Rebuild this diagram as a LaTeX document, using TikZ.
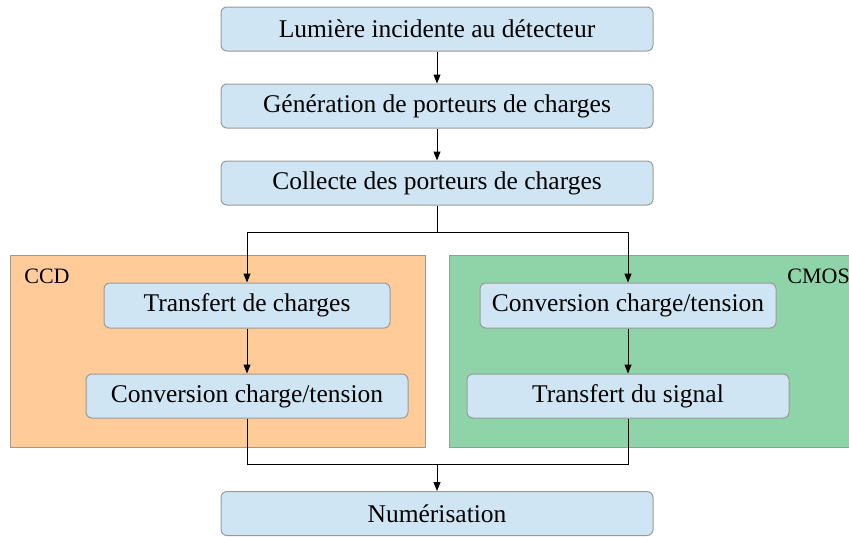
\documentclass[tikz,border=0pt]{standalone}
\usepackage{fontspec}
\setmainfont{Liberation Serif}
\usetikzlibrary{arrows.meta}

\definecolor{bleuetape}{HTML}{D0E5F3}
\definecolor{bordgris}{HTML}{9A9A9A}
\definecolor{orangeccd}{HTML}{FFCC99}
\definecolor{vertcmos}{HTML}{8FD3A9}

\begin{document}
\begin{tikzpicture}[x=0.5pt, y=-0.5pt,
    etape/.style={draw=bordgris, fill=bleuetape, rounded corners=3pt, line width=0.5pt,
      minimum height=22pt, inner sep=0pt, font=\fontsize{12.75}{15}\selectfont},
    groupe/.style={draw=bordgris, line width=0.5pt, minimum height=96pt, inner sep=0pt},
    titre/.style={anchor=base west, inner sep=0pt, font=\fontsize{11}{13}\selectfont},
    fleche/.style={-{Triangle[length=4.5pt,width=3.5pt]}, line width=0.5pt}]
  \useasboundingbox (0,0) rectangle (849,536);

  % les deux familles de capteurs
  \node[groupe, fill=orangeccd, minimum width=207.5pt] (ccd) at (217.5,351) {};
  \node[groupe, fill=vertcmos, minimum width=210pt] (cmos) at (659,351) {};
  \node[titre] (ccdtitre) at (24,283) {CCD};
  \node[titre] (cmostitre) at (787,283) {CMOS};

  % chaine commune
  \node[etape, minimum width=216pt] (lumiere) at (437,29) {Lumière incidente au détecteur};
  \node[etape, minimum width=216pt] (generation) at (437,106) {Génération de porteurs de charges};
  \node[etape, minimum width=216pt] (collecte) at (437,183) {Collecte des porteurs de charges};
  \node[etape, minimum width=216pt] (numerisation) at (437,513.5) {Numérisation};

  % CCD
  \node[etape, minimum width=143pt, minimum height=22.5pt] (ccdtransfert) at (247,305.5) {Transfert de charges};
  \node[etape, minimum width=161pt] (ccdconversion) at (247,396) {Conversion charge/tension};

  % CMOS
  \node[etape, minimum width=148pt, minimum height=22.5pt] (cmosconversion) at (628,305.5) {Conversion charge/tension};
  \node[etape, minimum width=161pt] (cmostransfert) at (628,396) {Transfert du signal};

  \draw[fleche] (lumiere) -- (generation);
  \draw[fleche] (generation) -- (collecte);
  \draw[line width=0.5pt] (collecte.south) -- (437,232) coordinate (fourche);
  \draw[fleche] (fourche) -| (ccdtransfert.north);
  \draw[fleche] (fourche) -| (cmosconversion.north);
  \draw[fleche] (ccdtransfert) -- (ccdconversion);
  \draw[fleche] (cmosconversion) -- (cmostransfert);
  \coordinate (jonction) at (437,464);
  \draw[line width=0.5pt] (ccdconversion.south) |- (jonction) -| (cmostransfert.south);
  \draw[fleche] (jonction) -- (numerisation.north);
\end{tikzpicture}
\end{document}
